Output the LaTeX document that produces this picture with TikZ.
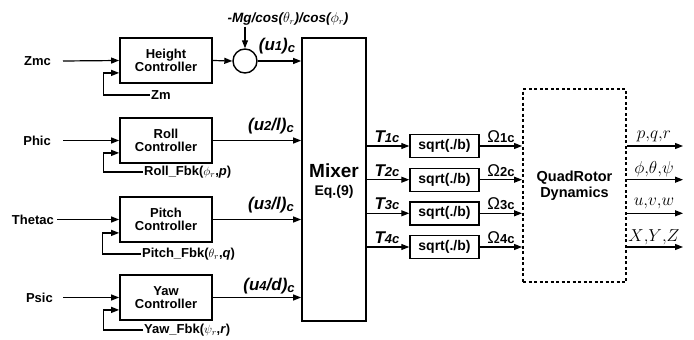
\documentclass[tikz,border=0pt]{standalone}
\usepackage{fontspec}
\setmainfont{Liberation Sans}
\usepackage{amsmath}
\usetikzlibrary{arrows.meta,calc,positioning}

\begin{document}
\begin{tikzpicture}[x=1pt,y=-1pt,>={Triangle[length=8pt,width=6pt]},
  ctrl/.style={draw,line width=1.8pt,minimum width=92pt,minimum height=45pt,align=center,
    font=\fontsize{13}{13}\selectfont\bfseries},
  sqrtbox/.style={draw,line width=1.4pt,minimum width=69pt,minimum height=23pt,
    font=\fontsize{14}{14}\selectfont\bfseries},
  lbl/.style={font=\fontsize{13}{14}\selectfont\bfseries,inner sep=1pt},
  ulbl/.style={font=\fontsize{17}{17}\selectfont\bfseries\itshape,inner sep=1pt},
  sublbl/.style={font=\fontsize{17}{17}\selectfont,inner sep=1pt},
  olbl/.style={font=\fontsize{16}{16}\selectfont,inner sep=1pt},
  wire/.style={line width=1.2pt}]
  \useasboundingbox (0,0) rectangle (694,340);

  % controllers
  \node[ctrl] (hc) at (166,60.5) {Height\\Controller};
  \node[ctrl] (rc) at (166,140.5) {Roll\\Controller};
  \node[ctrl] (pc) at (166,219.5) {Pitch\\Controller};
  \node[ctrl] (yc) at (166,297.5) {Yaw\\Controller};

  % inputs
  \node[lbl,anchor=east] (zmc) at (52,61) {Zmc};
  \node[lbl,anchor=east] (phic) at (52,140.5) {Phic};
  \node[lbl,anchor=east] (thetac) at (55,219.5) {Thetac};
  \node[lbl,anchor=east] (psic) at (54,297.5) {Psic};
  \draw[wire,->] ([xshift=11pt]zmc.east) -- (hc.west);
  \draw[wire,->] ([xshift=11pt]phic.east) -- (rc.west);
  \draw[wire,->] ([xshift=2pt]thetac.east) -- (pc.west);
  \draw[wire,->] ([xshift=9pt]psic.east) -- (yc.west);

  % feedback loops
  \node[lbl,anchor=west] (zm) at (150,95) {Zm};
  \node[lbl,anchor=west] (rfb) at (143,172) {Roll\_Fbk($\phi_r$,\textit{p})};
  \node[lbl,anchor=west] (pfb) at (141,254) {Pitch\_Fbk($\theta_r$,\textit{q})};
  \node[lbl,anchor=west] (yfb) at (143,330) {Yaw\_Fbk($\psi_r$,\textit{r})};
  \draw[wire,->] (zm.west) -| ($(hc.south west)+(-16,-11)$) -- ($(hc.south west)+(0,-11)$);
  \draw[wire,->] (rfb.west) -| ($(rc.south west)+(-16,-11)$) -- ($(rc.south west)+(0,-11)$);
  \draw[wire,->] (pfb.west) -| ($(pc.south west)+(-17,-10)$) -- ($(pc.south west)+(0,-10)$);
  \draw[wire,->] (yfb.west) -| ($(yc.south west)+(-16,-11)$) -- ($(yc.south west)+(0,-11)$);

  % summing junction
  \node[draw,circle,line width=1.4pt,minimum size=24pt,inner sep=0pt] (sum) at (245,61) {};
  \node[font=\fontsize{13.5}{14}\selectfont\bfseries\itshape,inner sep=1pt] (mg) at (288,19)
    {-Mg/cos($\theta_r$)/cos($\phi_r$)};
  \draw[wire,->] (sum.north |- mg.south) -- (sum.north);
  \draw[wire,->] (hc.east) -- (sum.west);

  % mixer
  \node[draw,line width=1.8pt,minimum width=64pt,minimum height=283pt] (mix) at (334,179.5) {};
  \node[font=\fontsize{19}{19}\selectfont\bfseries,inner sep=0pt] (mixt) at (334,171) {Mixer};
  \node[font=\fontsize{14}{14}\selectfont\bfseries,inner sep=0pt] (eq) at (334,192) {Eq.(9)};
  \draw[wire,->] (sum.east) -- (sum.east -| mix.west);
  \draw[wire,->] (rc.east) -- (rc.east -| mix.west);
  \draw[wire,->] (pc.east) -- (pc.east -| mix.west);
  \draw[wire,->] (yc.east) -- (yc.east -| mix.west);
  \node[ulbl] (u1) at (277,46) {(u{\fontsize{13}{13}\selectfont 1})\raisebox{-2pt}{\fontsize{13}{13}\selectfont c}};
  \node[ulbl] (u2) at (271,126) {(u{\fontsize{13}{13}\selectfont 2}/l)\raisebox{-2pt}{\fontsize{13}{13}\selectfont c}};
  \node[ulbl] (u3) at (271,205) {(u{\fontsize{13}{13}\selectfont 3}/l)\raisebox{-2pt}{\fontsize{13}{13}\selectfont c}};
  \node[ulbl] (u4) at (269,286) {(u{\fontsize{13}{13}\selectfont 4}/d)\raisebox{-2pt}{\fontsize{13}{13}\selectfont c}};

  % rotor speed blocks
  \node[sqrtbox] (s1) at (444.5,146) {sqrt(./b)};
  \node[sqrtbox] (s2) at (444.5,179.7) {sqrt(./b)};
  \node[sqrtbox] (s3) at (444.5,213.3) {sqrt(./b)};
  \node[sqrtbox] (s4) at (444.5,247) {sqrt(./b)};
  \draw[wire,->] (s1.west -| mix.east) -- (s1.west);
  \draw[wire,->] (s2.west -| mix.east) -- (s2.west);
  \draw[wire,->] (s3.west -| mix.east) -- (s3.west);
  \draw[wire,->] (s4.west -| mix.east) -- (s4.west);
  \node[ulbl] at (387,137) {T{\fontsize{13}{13}\selectfont 1c}};
  \node[ulbl] at (387,170.5) {T{\fontsize{13}{13}\selectfont 2c}};
  \node[ulbl] at (387,204) {T{\fontsize{13}{13}\selectfont 3c}};
  \node[ulbl] at (387,238) {T{\fontsize{13}{13}\selectfont 4c}};

  % dynamics
  \node[draw,line width=2pt,dash pattern=on 3pt off 2.5pt,minimum width=103pt,minimum height=193pt,
    align=center,font=\fontsize{14.5}{16.5}\selectfont\bfseries] (dyn) at (574.5,185.5) {QuadRotor\\Dynamics};
  \draw[wire,->] (s1.east) -- (s1.east -| dyn.west);
  \draw[wire,->] (s2.east) -- (s2.east -| dyn.west);
  \draw[wire,->] (s3.east) -- (s3.east -| dyn.west);
  \draw[wire,->] (s4.east) -- (s4.east -| dyn.west);
  \node[sublbl] at (501,137) {Ω{\fontsize{13}{13}\selectfont\bfseries 1c}};
  \node[sublbl] at (501,170.5) {Ω{\fontsize{13}{13}\selectfont\bfseries 2c}};
  \node[sublbl] at (501,204) {Ω{\fontsize{13}{13}\selectfont\bfseries 3c}};
  \node[sublbl] at (501,238) {Ω{\fontsize{13}{13}\selectfont\bfseries 4c}};

  % outputs
  \coordinate (o1) at (683,146);
  \coordinate (o2) at (683,179.7);
  \coordinate (o3) at (683,213.3);
  \coordinate (o4) at (683,247);
  \draw[wire,->] (o1 -| dyn.east) -- (o1);
  \draw[wire,->] (o2 -| dyn.east) -- (o2);
  \draw[wire,->] (o3 -| dyn.east) -- (o3);
  \draw[wire,->] (o4 -| dyn.east) -- (o4);
  \node[olbl] at (654,136) {$p{,}q{,}r$};
  \node[olbl] at (654,169.5) {$\phi{,}\theta{,}\psi$};
  \node[olbl] at (654,203) {$u{,}v{,}w$};
  \node[olbl] at (654,237) {$X{,}Y{,}Z$};
\end{tikzpicture}
\end{document}
